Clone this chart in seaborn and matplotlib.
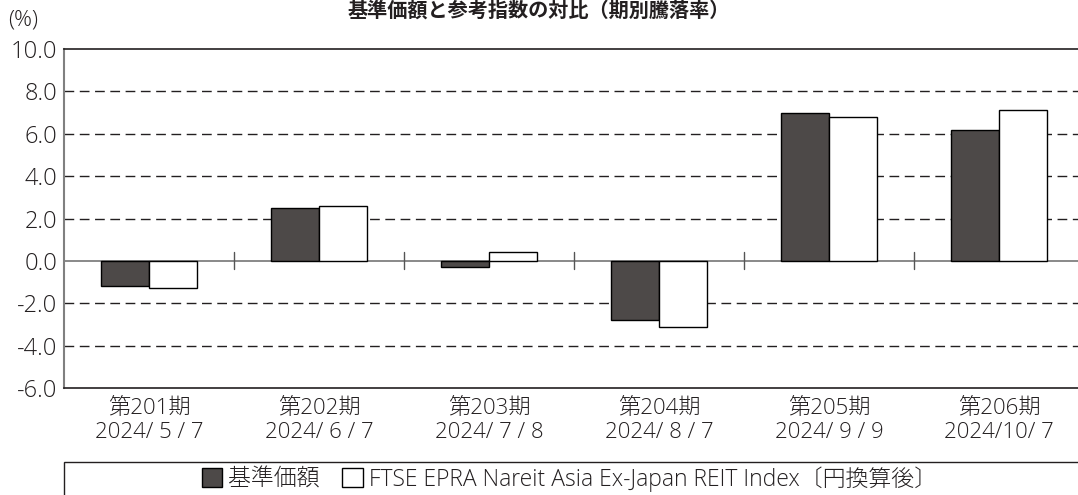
import matplotlib
matplotlib.use("Agg")
import matplotlib.pyplot as plt
import matplotlib.patches as mpatches
import seaborn as sns
import pandas as pd

periods = ["第201期\n2024/ 5 / 7", "第202期\n2024/ 6 / 7", "第203期\n2024/ 7 / 8",
           "第204期\n2024/ 8 / 7", "第205期\n2024/ 9 / 9", "第206期\n2024/10/ 7"]
series_names = ["基準価額", "FTSE EPRA Nareit Asia Ex-Japan REIT Index〔円換算後〕"]
fund_values = [-1.2, 2.5, -0.3, -2.8, 7.0, 6.2]
index_values = [-1.3, 2.6, 0.4, -3.1, 6.8, 7.1]
yticks = [-6, -4, -2, 0, 2, 4, 6, 8, 10]
title = "基準価額と参考指数の対比（期別騰落率）"

df = pd.DataFrame({
    "period": periods * 2,
    "series": [series_names[0]] * len(periods) + [series_names[1]] * len(periods),
    "value": fund_values + index_values,
})

sns.set_theme(style="white")
plt.rcParams["font.family"] = ["Open Sans", "Noto Sans CJK JP", "DejaVu Sans"]
txt = "#231f20"

dark = "#4d4948"
fig = plt.figure(figsize=(10.78, 4.95), dpi=100)
ax = fig.add_axes([64 / 1078, 1 - 388 / 495, 1 - 64 / 1078, (388 - 49) / 495])

sns.barplot(data=df, x="period", y="value", hue="series", palette=[dark, "white"],
            edgecolor="black", linewidth=1.0, width=0.57, ax=ax, legend=False,
            saturation=1, zorder=3)

ax.set_ylim(-6, 10)
ax.set_xlim(-0.5, -0.5 + (1078 - 64) / 170)
ax.set_yticks(yticks)
ax.set_yticklabels([f"{v:.1f}" for v in yticks])
ax.set_xlabel("")
ax.set_ylabel("")
ax.tick_params(axis="both", length=0, colors=txt)
ax.tick_params(axis="y", pad=5, labelsize=17)
ax.tick_params(axis="x", pad=7, labelsize=16)
for lab in ax.get_yticklabels() + ax.get_xticklabels():
    lab.set_fontweight("light")

for v in yticks:
    if v in (-6, 0, 10):
        continue
    ax.axhline(v, color=txt, linestyle=(0, (7, 4)), linewidth=1.0, zorder=1)
ax.axhline(0, color="#808080", linewidth=1.3, zorder=2)

for i in range(len(periods) - 1):
    ax.plot([i + 0.5, i + 0.5], [-0.4, 0.4], color="#555555", linewidth=1.0, zorder=2)

for side in ["top", "bottom"]:
    ax.spines[side].set_color(txt)
    ax.spines[side].set_linewidth(1.2)
ax.spines["left"].set_color("#808080")
ax.spines["left"].set_linewidth(1.5)
ax.spines["right"].set_visible(False)

fig.text(0.5, 1.0, title, ha="center", va="top", fontsize=14.5, fontweight="bold",
         color=txt, family=["Noto Sans CJK JP", "DejaVu Sans"])
fig.text(8 / 1078, 1 - 20 / 495, "(%)", ha="left", va="center", fontsize=16,
         color=txt, fontweight="light")

# legend frame
fig.patches.append(mpatches.Rectangle((64 / 1078, -0.05), 1.0, 0.05 + (495 - 462) / 495,
                                      transform=fig.transFigure, fill=False,
                                      edgecolor=txt, linewidth=1.0))
handles = [mpatches.Patch(facecolor=dark, edgecolor="black", label=series_names[0]),
           mpatches.Patch(facecolor="white", edgecolor="black", label=series_names[1])]
leg = fig.legend(handles=handles, loc="center", bbox_to_anchor=(0.528, 1 - 479 / 495), ncol=2,
                 frameon=False, fontsize=16.5, handlelength=0.9, handleheight=0.9,
                 handletextpad=0.25, columnspacing=1.0, borderpad=0)
for t in leg.get_texts():
    t.set_color(txt)
    t.set_fontweight("light")

fig.savefig("out.png", dpi=100)
